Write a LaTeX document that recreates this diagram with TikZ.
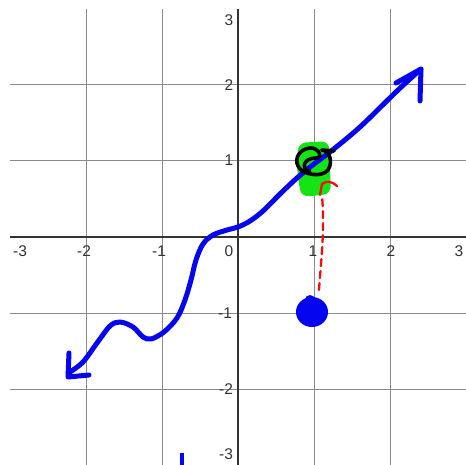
\documentclass[tikz,border=0pt]{standalone}
\usepackage{fontspec}
\setmainfont{Liberation Sans}
\definecolor{penblue}{RGB}{5,5,240}
\definecolor{pengreen}{RGB}{20,228,20}
\definecolor{penred}{RGB}{250,10,10}
\begin{document}
\begin{tikzpicture}[x=1pt,y=-1pt,
  gridline/.style={draw=black!45,line width=1},
  axisline/.style={draw=black!80,line width=1.8},
  ticklab/.style={font=\fontsize{15.5}{18}\selectfont,text=black!80,inner sep=0},
  bluepen/.style={draw=penblue,line width=5,line cap=round,line join=round},
  blackpen/.style={draw=black,line width=3.6,line cap=round,line join=round},
  redpen/.style={draw=penred,line width=2.3,line cap=round,line join=round},
]
\useasboundingbox (0,0) rectangle (466,465);
\fill[white] (0,0) rectangle (466,465);
% grid
\foreach \x in {86,162,314,390} \draw[gridline] (\x,9) -- (\x,465);
\foreach \y in {85,161,313,389} \draw[gridline] (10,\y) -- (466,\y);
\draw[axisline] (10,237) -- (466,237);
\draw[axisline] (238,9) -- (238,465);
% tick labels
\node[ticklab] (xm3) at (20,251) {-3};
\node[ticklab] (xm2) at (84,251) {-2};
\node[ticklab] (xm1) at (159,251) {-1};
\node[ticklab] (x0) at (229,251) {0};
\node[ticklab] (x1) at (313,251) {1};
\node[ticklab] (x2) at (391,251) {2};
\node[ticklab] (x3) at (459,251) {3};
\node[ticklab] (y3) at (229,20) {3};
\node[ticklab] (y2) at (229,85) {2};
\node[ticklab] (y1) at (229,160) {1};
\node[ticklab] (ym1) at (225,313) {-1};
\node[ticklab] (ym2) at (226,389) {-2};
\node[ticklab] (ym3) at (226,454) {-3};
% green highlight
\fill[pengreen,rounded corners=8] (298,143) -- (329,141) -- (331,194) -- (301,197) -- (297,170) -- cycle;
% blue curve
\draw[bluepen] plot[smooth,tension=0.55] coordinates {(70,372) (83,362) (97,343) (110,326) (120,322) (133,327) (143,337) (151,339) (164,332) (177,318) (185,300) (191,280) (196,260) (203,244) (213,235) (227,230) (238,227) (250,221) (263,211) (280,194) (297,178) (314,164) (330,152) (360,127) (397,91) (421,69)};
\draw[bluepen] (69,353) -- (68,377) -- (89,375);
\draw[bluepen] (396,83) -- (421,69) -- (420,101);
% black loop
\draw[blackpen] (310,172) .. controls (300,168) and (304,158) .. (316,158)
  .. controls (324,158) and (318,147) .. (310,148)
  .. controls (300,149) and (294,158) .. (298,166)
  .. controls (302,175) and (322,178) .. (328,170)
  .. controls (333,162) and (330,151) .. (322,150);
\draw[blackpen] (322,150) -- (334,151);
% red dashed arrow
\draw[redpen,dash pattern=on 7pt off 5pt] (319,290) .. controls (321,260) and (325,230) .. (322,196);
\draw[redpen] (320,195) -- (322,184) .. controls (327,180) and (333,182) .. (337,186);
% blue dot
\fill[penblue] (312,312) ellipse [x radius=16, y radius=15];
\fill[penblue] (310,300) circle (5);
% small blue mark
\draw[draw=penblue,line width=3.5] (182,453) -- (182,466);
\end{tikzpicture}
\end{document}
